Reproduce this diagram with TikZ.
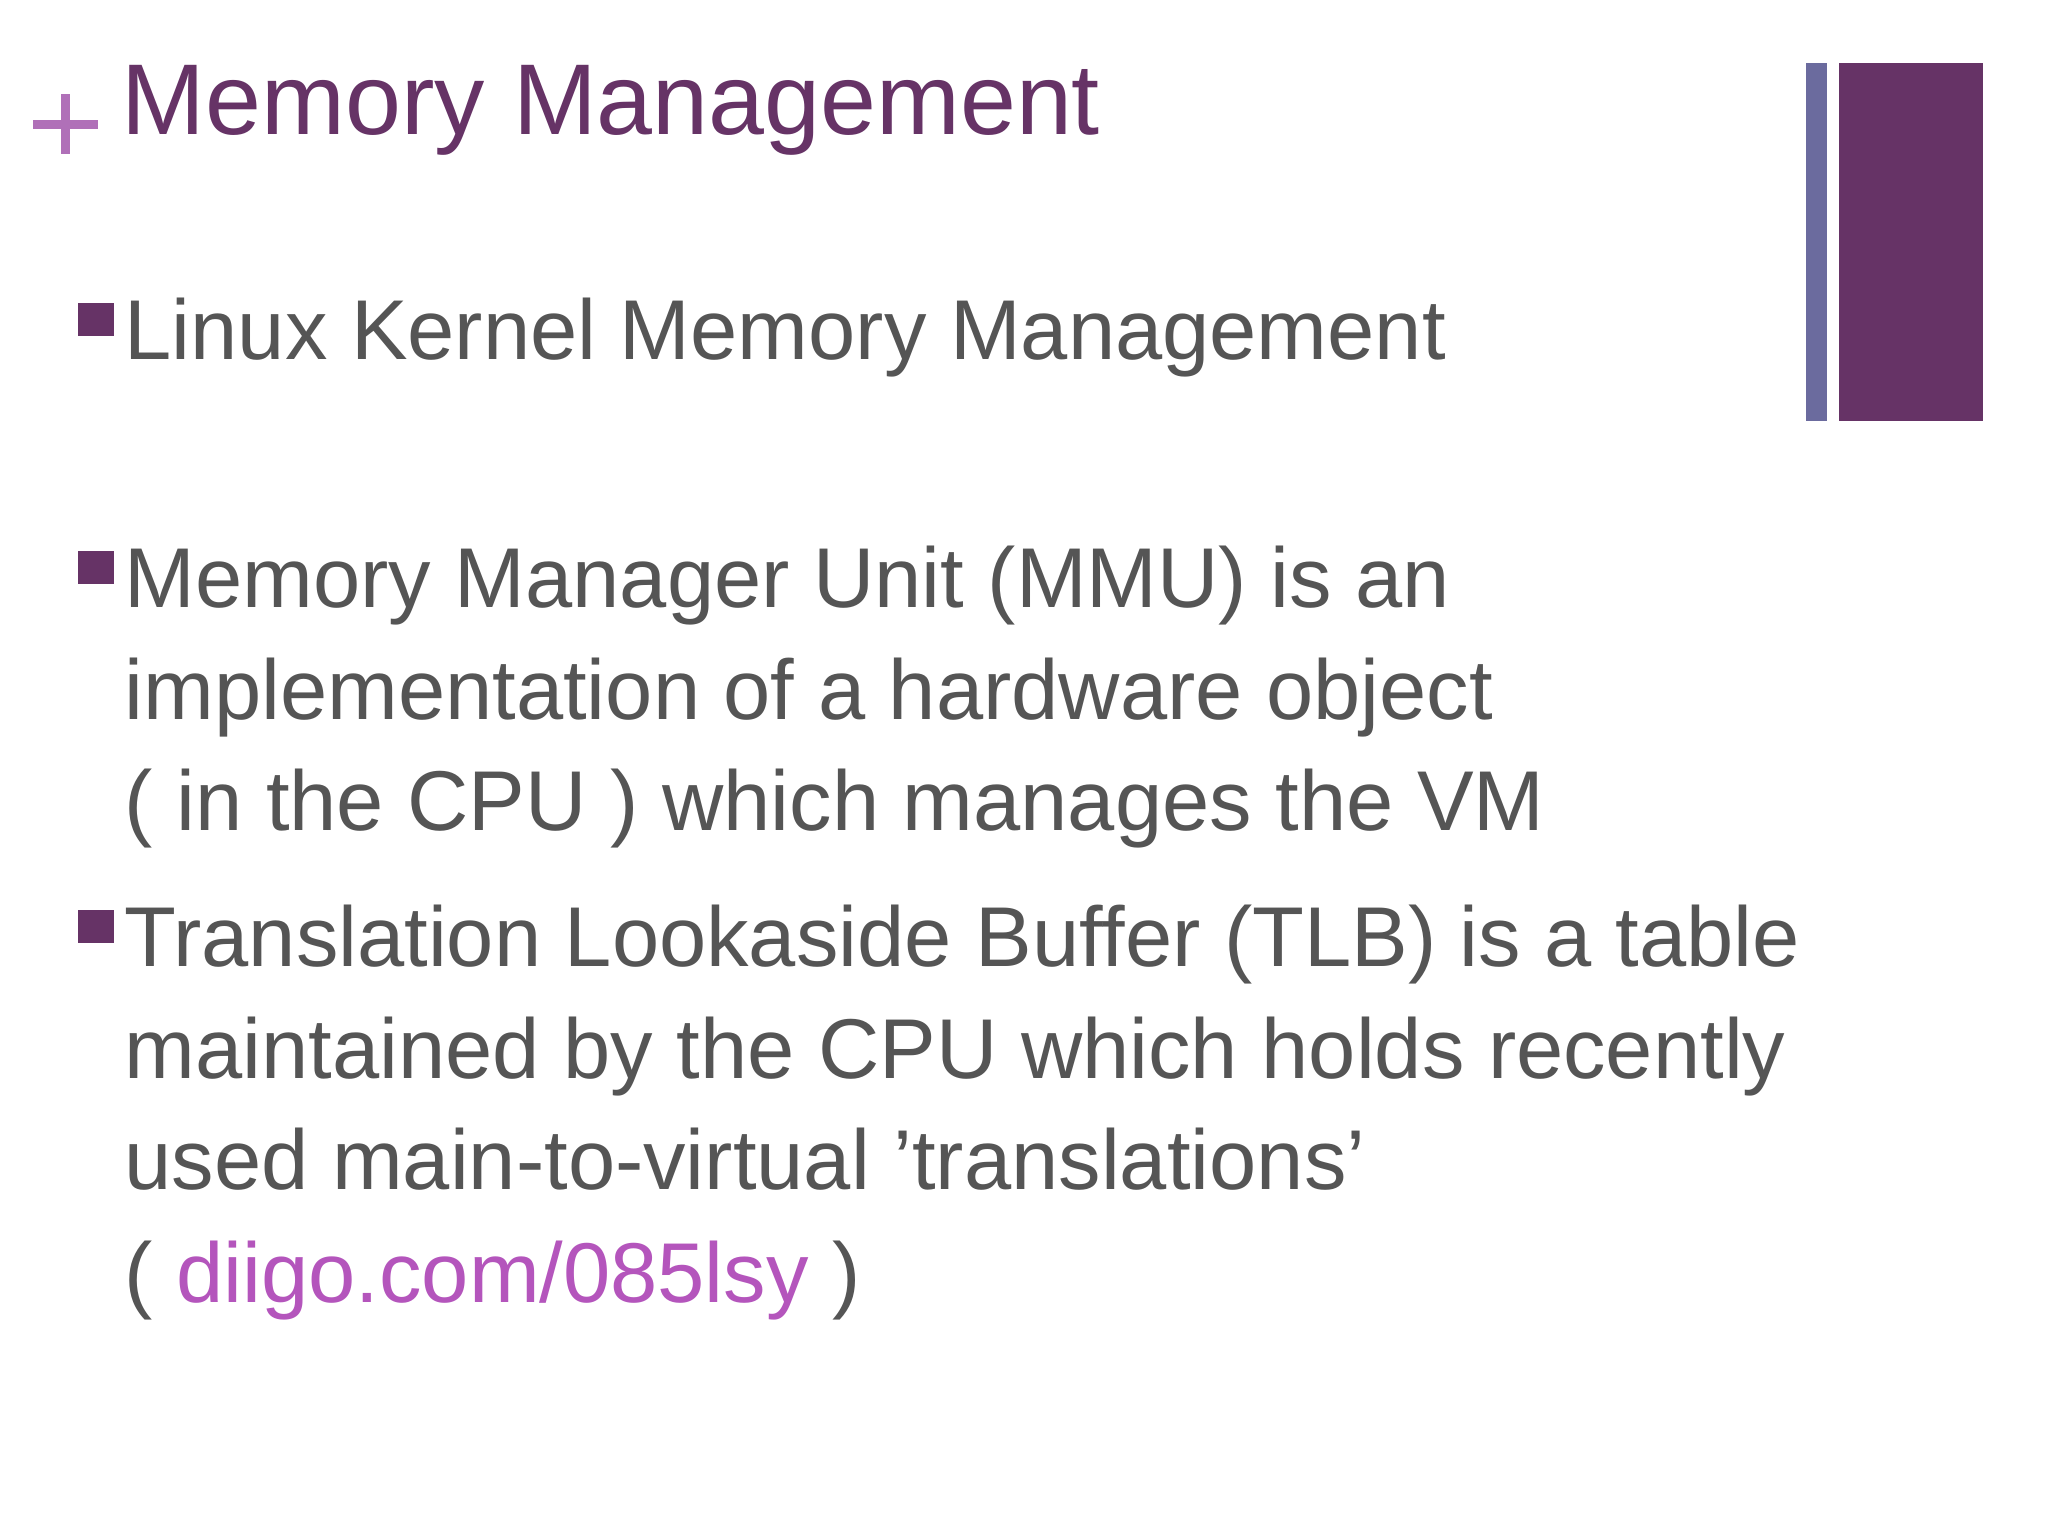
\documentclass[tikz,border=0pt]{standalone}
\usepackage{fontspec}
\setmainfont{Liberation Sans}
\definecolor{plum}{HTML}{663366}
\definecolor{slate}{HTML}{6B6B9E}
\definecolor{pinkp}{HTML}{B070B8}
\definecolor{txt}{HTML}{555555}
\definecolor{link}{HTML}{B455BC}
\begin{document}
\begin{tikzpicture}[x=0.5pt,y=-0.5pt,
  body/.style={anchor=base west,inner sep=0pt,text=txt,font=\fontsize{32.5pt}{43pt}\selectfont},
  bullet/.style={fill=plum}]
\useasboundingbox (0,0) rectangle (1568,1176);
\fill[white] (0,0) rectangle (1568,1176);
\fill[slate] (1383,48) rectangle (1399,322);
\fill[plum] (1408,48) rectangle (1518,322);
\fill[pinkp] (25,92) rectangle (75,99);
\fill[pinkp] (46.5,72) rectangle (53.5,118);
\node[anchor=base west,inner sep=0pt,text=plum,font=\fontsize{38.5pt}{46pt}\selectfont] (title) at (93,103) {Memory Management};
\fill[bullet] (60,232) rectangle (87,257);
\fill[bullet] (60,422) rectangle (87,447);
\fill[bullet] (60,697) rectangle (87,722);
\node[body] (b1) at (95,275) {Linux Kernel Memory Management};
\node[body] (b2a) at (95,465) {Memory Manager Unit (MMU) is an};
\node[body] (b2b) at (95,551) {implementation of a hardware object};
\node[body] (b2c) at (95,636) {( in the CPU ) which manages the VM};
\node[body] (b3a) at (95,740) {Translation Lookaside Buffer (TLB) is a table};
\node[body] (b3b) at (95,826) {maintained by the CPU which holds recently};
\node[body] (b3c) at (95,911) {used main-to-virtual 'translations’};
\node[body] (b3d) at (95,997) {( \textcolor{link}{diigo.com/085lsy} )};
\end{tikzpicture}
\end{document}
